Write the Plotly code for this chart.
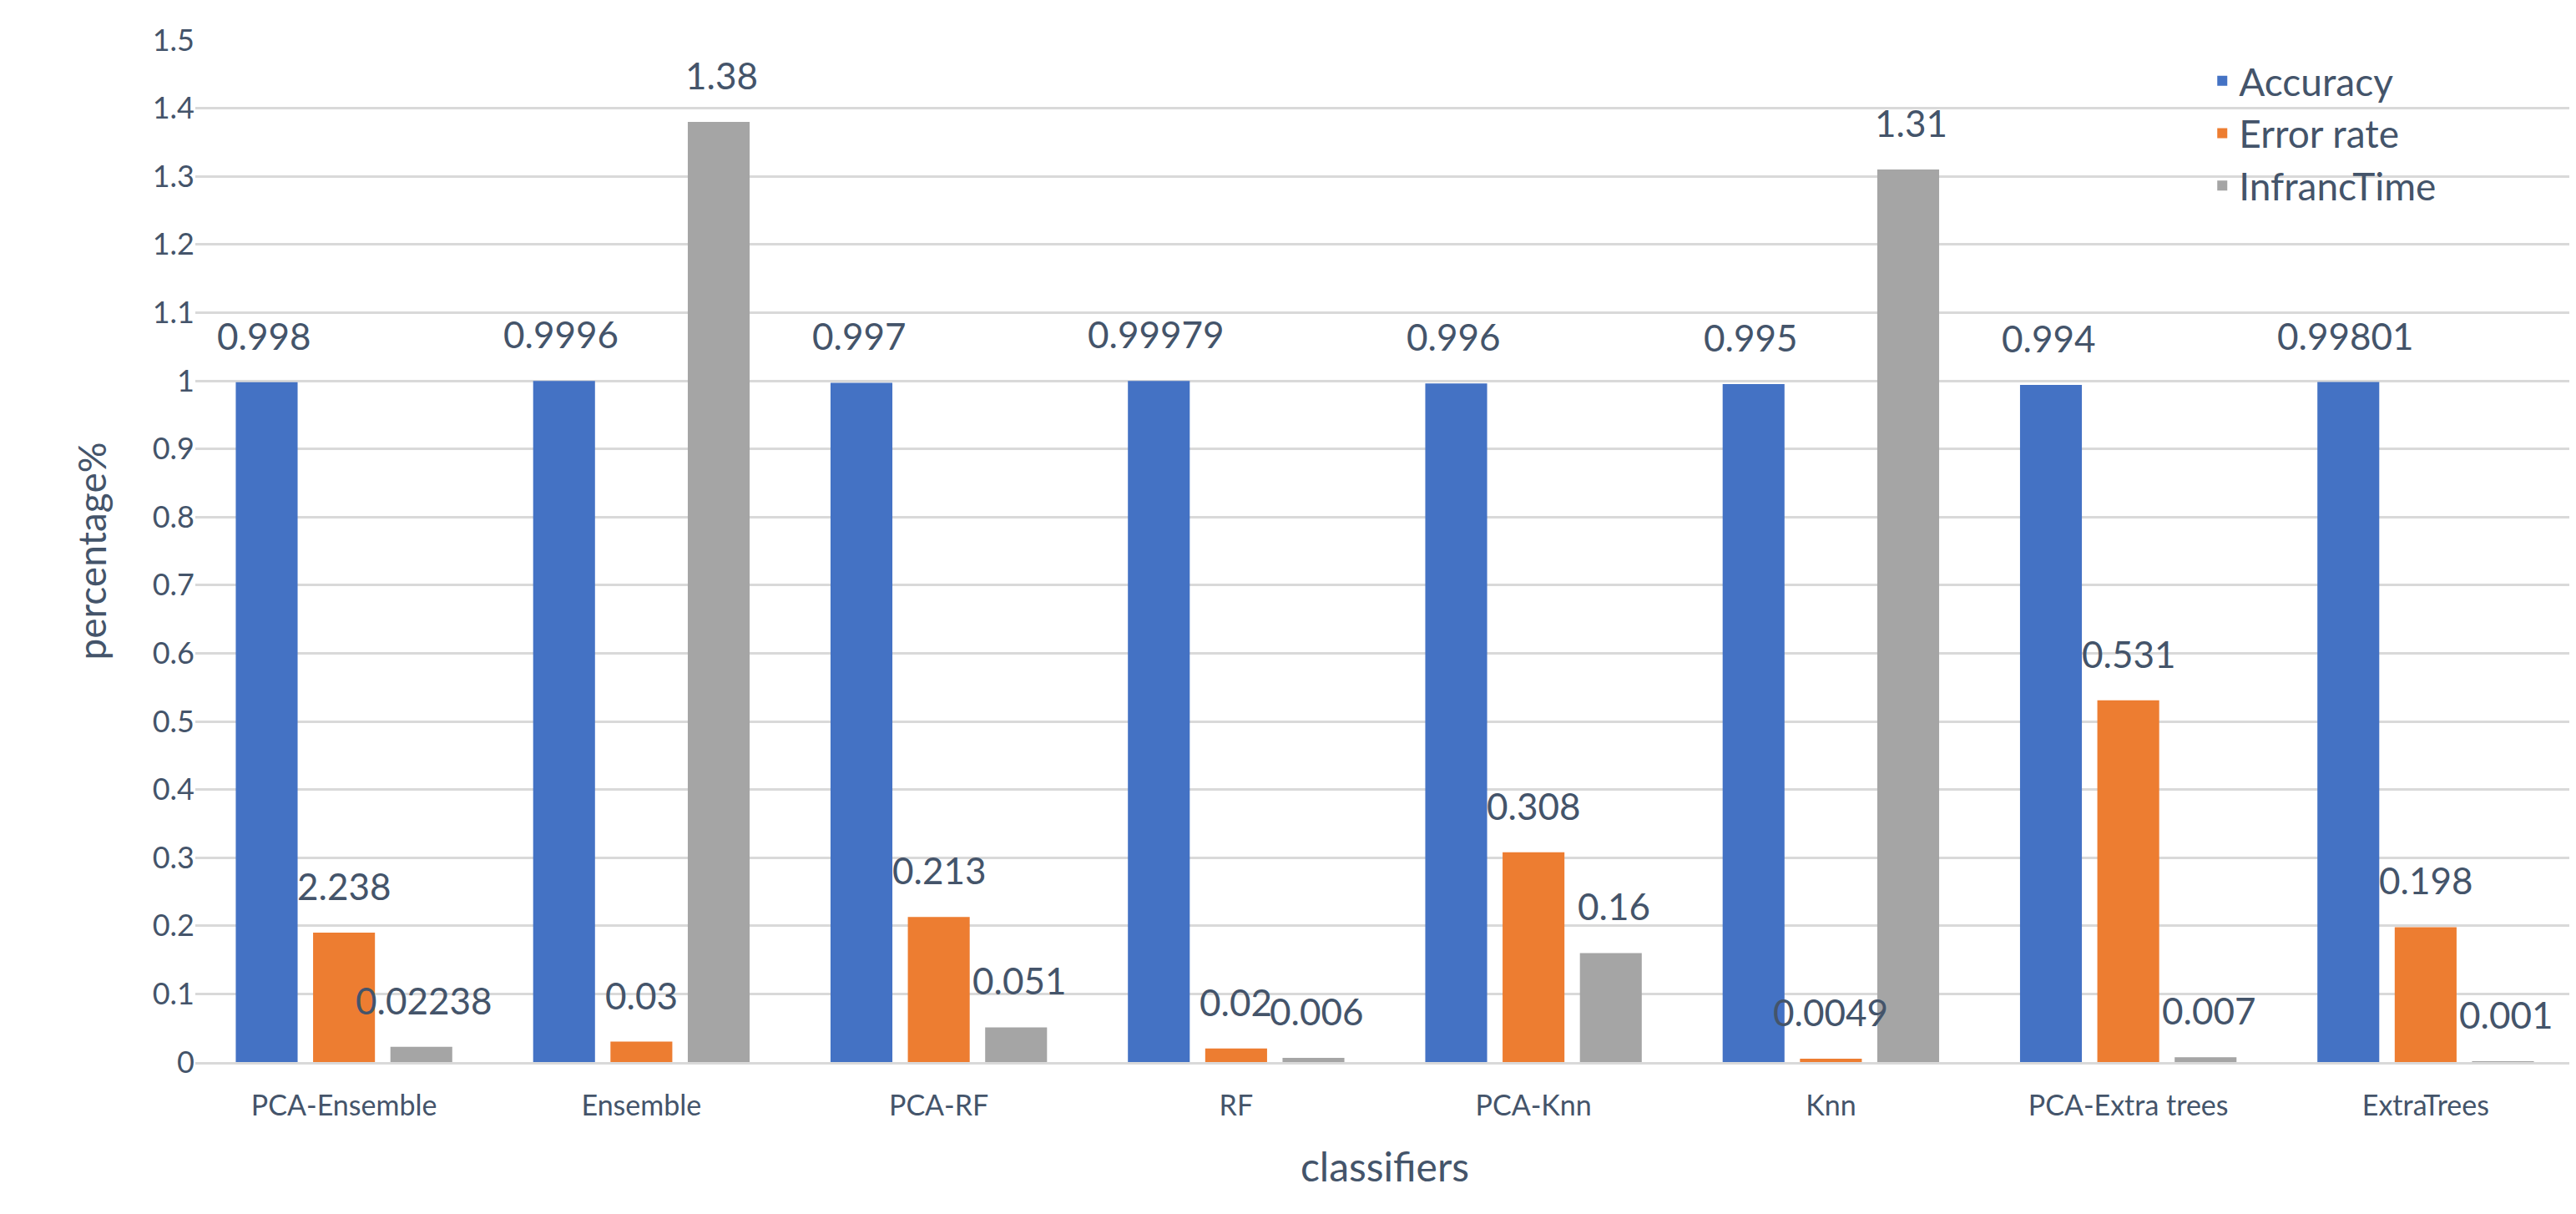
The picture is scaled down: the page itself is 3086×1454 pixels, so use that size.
import plotly.graph_objects as go

categories = ["PCA-Ensemble", "Ensemble", "PCA-RF", "RF", "PCA-Knn", "Knn", "PCA-Extra trees", "ExtraTrees"]
accuracy = [0.998, 0.9996, 0.997, 0.99979, 0.996, 0.995, 0.994, 0.99801]
accuracy_labels = ["0.998", "0.9996", "0.997", "0.99979", "0.996", "0.995", "0.994", "0.99801"]
error_rate = [0.19, 0.03, 0.213, 0.02, 0.308, 0.0049, 0.531, 0.198]
error_labels = ["2.238", "0.03", "0.213", "0.02", "0.308", "0.0049", "0.531", "0.198"]
infer_time = [0.02238, 1.38, 0.051, 0.006, 0.16, 1.31, 0.007, 0.001]
infer_labels = ["0.02238", "1.38", "0.051", "0.006", "0.16", "1.31", "0.007", "0.001"]
y_ticks = [0, 0.1, 0.2, 0.3, 0.4, 0.5, 0.6, 0.7, 0.8, 0.9, 1, 1.1, 1.2, 1.3, 1.4, 1.5]

FONT = "Lato"
TXT = "#44546a"
fig = go.Figure()
series = [
    ("Accuracy", accuracy, accuracy_labels, "#4472c4", -96),
    ("Error rate", error_rate, error_labels, "#ed7d31", 0),
    ("InfrancTime", infer_time, infer_labels, "#a5a5a5", 96),
]
for name, vals, labels, color, xs in series:
    fig.add_trace(go.Bar(
        x=categories, y=vals, name=name, marker=dict(color=color, line=dict(width=0)),
    ))
    for c, v, t in zip(categories, vals, labels):
        fig.add_annotation(x=c, y=v, text=t, showarrow=False, xshift=xs, yshift=28,
                           yanchor="bottom", font=dict(family=FONT, size=44, color=TXT))

fig.update_layout(
    width=3086, height=1454, barmode="group", bargap=0.22, bargroupgap=0.2,
    plot_bgcolor="white", paper_bgcolor="white",
    margin=dict(l=226, r=10, t=40, b=190),
    font=dict(family=FONT, size=34, color=TXT),
    legend=dict(x=0.845, y=0.99, xanchor="left", yanchor="top", bgcolor="rgba(0,0,0,0)",
                font=dict(family=FONT, size=46, color=TXT), itemwidth=30, tracegroupgap=14),
    xaxis=dict(title=dict(text="classifiers", font=dict(family=FONT, size=48, color=TXT), standoff=40),
               tickfont=dict(family=FONT, size=34, color=TXT), showline=True,
               linecolor="#d9d9d9", linewidth=3, ticks="", ticklabelstandoff=20),
    yaxis=dict(title=dict(text="percentage%", font=dict(family=FONT, size=46, color=TXT), standoff=40),
               range=[0, 1.5], tickvals=y_ticks, ticktext=[f"{v:g}" for v in y_ticks],
               tickfont=dict(family=FONT, size=36, color=TXT), gridcolor="#d9d9d9",
               gridwidth=3, zeroline=False, showline=False),
)
fig.write_html("out.html")
